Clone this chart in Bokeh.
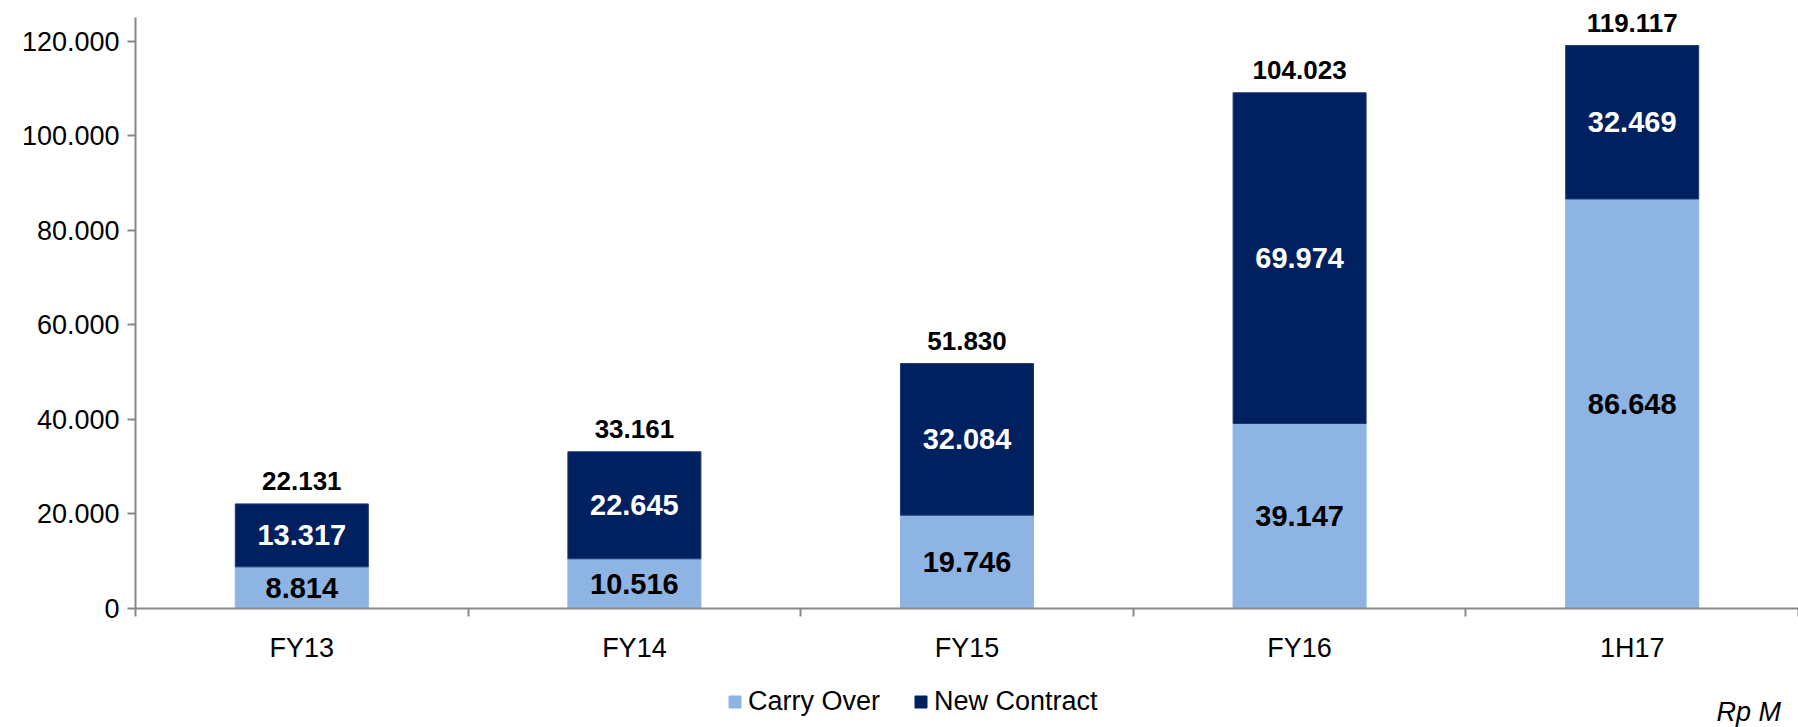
from bokeh.plotting import figure
from bokeh.layouts import column
from bokeh.models import (ColumnDataSource, FixedTicker, CustomJSTickFormatter, Legend,
                          LegendItem, Label, Range1d)
from bokeh.core.properties import value
from bokeh.embed import file_html
from bokeh.resources import INLINE

categories = ["FY13", "FY14", "FY15", "FY16", "1H17"]
carry_over = [8814, 10516, 19746, 39147, 86648]
new_contract = [13317, 22645, 32084, 69974, 32469]
total_labels = [22131, 33161, 51830, 104023, 119117]
y_ticks = [0, 20000, 40000, 60000, 80000, 100000, 120000]
series_names = ["Carry Over", "New Contract"]
unit_note = "Rp M"

FONT = "Liberation Sans"
C_LIGHT = "#8EB4E3"
C_DARK = "#002060"
AX = "#888888"
LEFT = 135

def fmt(v):
    return f"{v/1000:.3f}"

xs = [i + 0.5 for i in range(len(categories))]
top1 = carry_over
top2 = [a + b for a, b in zip(carry_over, new_contract)]

src = ColumnDataSource(dict(
    x=xs, top1=top1, top2=top2,
    mid1=[v / 2 for v in carry_over],
    mid2=[a + b / 2 for a, b in zip(carry_over, new_contract)],
    lab1=[fmt(v) for v in carry_over],
    lab2=[fmt(v) for v in new_contract],
    labt=[fmt(v) for v in total_labels],
))

p = figure(width=1798, height=668, output_backend="svg", toolbar_location=None,
           x_range=Range1d(0, len(categories)), y_range=Range1d(0, 127800),
           frame_width=1798 - LEFT, frame_height=604,
           min_border_left=LEFT, min_border_right=0, min_border_top=4, min_border_bottom=60)
p.outline_line_color = None
p.xgrid.visible = False
p.ygrid.visible = False

r1 = p.vbar(x="x", bottom=0, top="top1", width=0.4, source=src, fill_color=C_LIGHT, line_color=C_LIGHT)
r2 = p.vbar(x="x", bottom="top1", top="top2", width=0.4, source=src, fill_color=C_DARK,
            line_color="#1F3A78", line_width=1)

p.text(x="x", y="mid1", text="lab1", source=src, text_align="center", text_baseline="middle",
       text_font=value(FONT), text_font_style="bold", text_font_size="29px", text_color="black")
p.text(x="x", y="mid2", text="lab2", source=src, text_align="center", text_baseline="middle",
       text_font=value(FONT), text_font_style="bold", text_font_size="29px", text_color="white")
p.text(x="x", y="top2", text="labt", source=src, text_align="center", text_baseline="middle",
       y_offset=-23, text_font=value(FONT), text_font_style="bold", text_font_size="26px",
       text_color="black")

# x axis: labels at category centres, separator ticks at boundaries
p.xaxis.ticker = FixedTicker(ticks=xs, minor_ticks=list(range(len(categories) + 1)))
p.xaxis.major_label_overrides = {x: c for x, c in zip(xs, categories)}
p.xaxis.major_tick_line_color = None
p.xaxis.minor_tick_out = 8
p.xaxis.minor_tick_in = 0
p.xaxis.minor_tick_line_color = AX
p.xaxis.minor_tick_line_width = 2
p.xaxis.axis_line_color = AX
p.xaxis.axis_line_width = 2
p.xaxis.major_label_text_font = FONT
p.xaxis.major_label_text_font_size = "27px"
p.xaxis.major_label_text_color = "black"
p.xaxis.major_label_standoff = 16

p.yaxis.ticker = FixedTicker(ticks=y_ticks)
p.yaxis.bounds = (0, 125000)
p.yaxis.formatter = CustomJSTickFormatter(code="return tick == 0 ? '0' : (tick/1000).toFixed(3);")
p.yaxis.major_tick_out = 8
p.yaxis.major_tick_in = 0
p.yaxis.minor_tick_line_color = None
p.yaxis.major_tick_line_color = AX
p.yaxis.major_tick_line_width = 2
p.yaxis.axis_line_color = AX
p.yaxis.axis_line_width = 2
p.yaxis.major_label_text_font = FONT
p.yaxis.major_label_text_font_size = "27px"
p.yaxis.major_label_text_color = "black"
p.yaxis.major_label_standoff = 8

# legend strip (its frame is aligned with the chart's frame, so x is relative to LEFT)
p2 = figure(width=1798, height=59, output_backend="svg", toolbar_location=None,
            x_range=Range1d(0, len(categories)), y_range=Range1d(0, 1),
            frame_width=1798 - LEFT, frame_height=59,
            min_border_left=LEFT, min_border_right=0, min_border_top=0, min_border_bottom=0)
p2.axis.visible = False
p2.grid.visible = False
p2.outline_line_color = None
d1 = p2.vbar(x="x", bottom=0, top="top1", width=0.4, source=src, fill_color=C_LIGHT,
             line_color=C_LIGHT, visible=False)
d2 = p2.vbar(x="x", bottom=0, top="top2", width=0.4, source=src, fill_color=C_DARK,
             line_color=C_DARK, visible=False)

legend = Legend(items=[LegendItem(label=series_names[0], renderers=[d1]),
                       LegendItem(label=series_names[1], renderers=[d2])],
                location=(727 - LEFT, 10), orientation="horizontal", click_policy="none",
                glyph_width=15, glyph_height=15, label_standoff=6, spacing=33,
                padding=0, margin=0, border_line_color=None, background_fill_alpha=0,
                label_text_font=FONT, label_text_font_size="27px", label_text_color="black")
p2.add_layout(legend, "center")

p2.add_layout(Label(x=1716 - LEFT, y=16, x_units="screen", y_units="screen", text=unit_note,
                    text_font=FONT, text_font_style="italic", text_font_size="27px",
                    text_baseline="middle", text_color="black"))

layout = column(p, p2, spacing=0)
open("out.html", "w").write(file_html(layout, INLINE))
